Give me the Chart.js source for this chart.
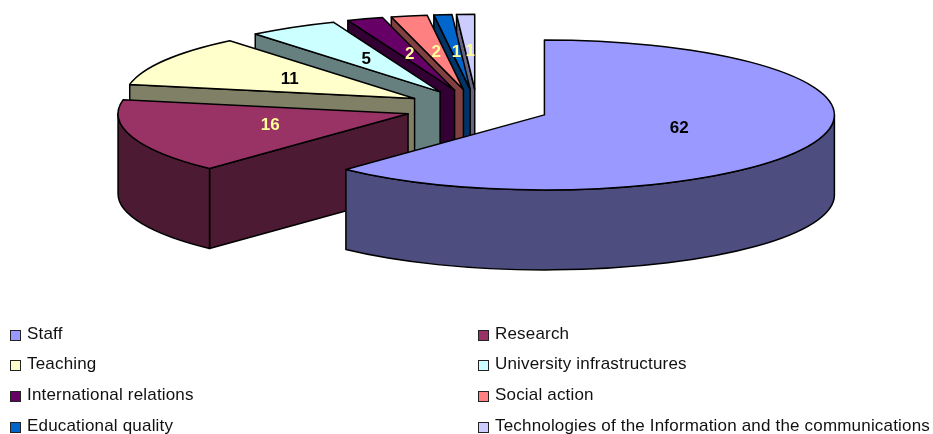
<!DOCTYPE html>
<html>
<head>
<meta charset="utf-8">
<title>Budget areas</title>
<script src="https://cdn.jsdelivr.net/npm/chart.js@4/dist/chart.umd.min.js"></script>
<style>
  html, body { margin: 0; padding: 0; background: #fff; overflow: hidden; }
  #wrap { position: relative; width: 933px; height: 434px; }
  #legend span { position: absolute; font: 17px "Liberation Sans", Arial, sans-serif; letter-spacing: 0.18px; color: #111; white-space: nowrap; line-height: 20px; }
  #legend i { position: absolute; box-sizing: border-box; width: 11px; height: 11px; border: 1.5px solid #222; }
</style>
</head>
<body>
<div id="wrap">
  <canvas id="pieChart" width="933" height="434"></canvas>
  <div id="legend"></div>
</div>
<script>
const categories = ["Staff", "Research", "Teaching", "University infrastructures",
  "International relations", "Social action", "Educational quality",
  "Technologies of the Information and the communications"];
const shares = [62, 16, 11, 5, 2, 2, 1, 1];
const topColors = ["#9999FF", "#993366", "#FFFFCC", "#CCFFFF", "#660066", "#FF8080", "#0066CC", "#CCCCFF"];
const wallColors = ["#4D4D80", "#4D1A33", "#808066", "#668080", "#330033", "#804040", "#003366", "#666680"];
const labelColors = ["#000000", "#FFFF99", "#000000", "#000000", "#FFFF99", "#FFFF99", "#FFFF99", "#FFFF99"];

const tilt = 0.2586;   // vertical squash of the pie disc
const depth = 80;      // height of the extruded wall
const radius = 290;
const explode = 72.5;  // how far each slice moves out along its middle angle

// fake 3d: squash the arcs and extrude a wall below each one
const pie3d = {
  id: "pie3d",
  beforeDatasetDraw(chart) {
    const ctx = chart.ctx;
    const arcs = chart.getDatasetMeta(0).data;
    ctx.lineWidth = 1.5;
    ctx.lineJoin = "round";
    ctx.strokeStyle = "#000";

    // back slices first, the big front ones cover them
    for (let i = arcs.length - 1; i >= 0; i--) {
      const arc = arcs[i];
      const s = arc.startAngle, e = arc.endAngle;
      const mid = (s + e) / 2;
      const ax = arc.x + Math.cos(mid) * explode;
      const ay = arc.y + Math.sin(mid) * explode * tilt;
      const R = arc.outerRadius;

      ctx.fillStyle = wallColors[i];

      // straight walls, only the ones turned to the viewer
      [[s, s - Math.PI / 2], [e, e + Math.PI / 2]].forEach(([a, normal]) => {
        if (Math.sin(normal) <= 0) return;
        const ex = ax + R * Math.cos(a), ey = ay + R * tilt * Math.sin(a);
        ctx.beginPath();
        ctx.moveTo(ax, ay);
        ctx.lineTo(ex, ey);
        ctx.lineTo(ex, ey + depth);
        ctx.lineTo(ax, ay + depth);
        ctx.closePath();
        ctx.fill();
        ctx.stroke();
      });

      // rounded wall on the lower half of the ellipse
      const from = Math.max(s, 0), to = Math.min(e, Math.PI);
      if (to > from) {
        ctx.beginPath();
        ctx.ellipse(ax, ay, R, R * tilt, 0, from, to);
        ctx.ellipse(ax, ay + depth, R, R * tilt, 0, to, from, true);
        ctx.closePath();
        ctx.fill();
        ctx.stroke();
      }

      // top face drawn by the arc element itself
      ctx.save();
      ctx.translate(ax, ay);
      ctx.scale(1, tilt);
      ctx.translate(-arc.x, -arc.y);
      arc.draw(ctx);
      ctx.restore();

      ctx.beginPath();
      ctx.moveTo(ax, ay);
      ctx.ellipse(ax, ay, R, R * tilt, 0, s, e);
      ctx.closePath();
      ctx.stroke();
    }

    // value labels
    ctx.font = "bold 17px 'Liberation Sans', Arial, sans-serif";
    ctx.textAlign = "center";
    ctx.textBaseline = "middle";
    arcs.forEach((arc, i) => {
      const mid = (arc.startAngle + arc.endAngle) / 2;
      const c = arc.getCenterPoint();
      const x = c.x + Math.cos(mid) * explode;
      const y = arc.y + (c.y - arc.y + Math.sin(mid) * explode) * tilt;
      ctx.fillStyle = labelColors[i];
      ctx.fillText(String(shares[i]), x, y);
    });
    return false;
  }
};

new Chart(document.getElementById("pieChart"), {
  type: "pie",
  data: {
    labels: categories,
    datasets: [{
      data: shares,
      backgroundColor: topColors,
      borderWidth: 0,
      clip: false
    }]
  },
  options: {
    responsive: false,
    animation: false,
    radius: radius,
    layout: { padding: { left: 21, bottom: 218 } },
    plugins: { legend: { display: false }, tooltip: { enabled: false } }
  },
  plugins: [pie3d]
});

// two column legend under the pie
const legendBox = document.getElementById("legend");
const rowY = [335, 365, 396, 427];
categories.forEach((name, i) => {
  const col = i % 2, row = Math.floor(i / 2);
  const mark = document.createElement("i");
  mark.style.left = (col ? 478 : 10) + "px";
  mark.style.top = (rowY[row] - 5) + "px";
  mark.style.background = topColors[i];
  const text = document.createElement("span");
  text.textContent = name;
  text.style.left = (col ? 495 : 27) + "px";
  text.style.top = (rowY[row] - 11) + "px";
  legendBox.appendChild(mark);
  legendBox.appendChild(text);
});
</script>
</body>
</html>
